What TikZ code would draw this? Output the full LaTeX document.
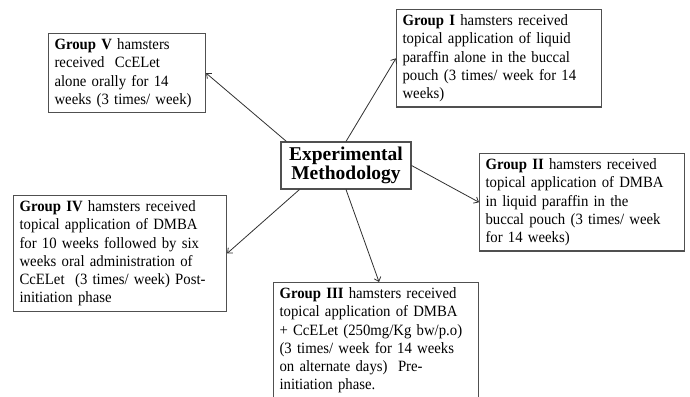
\documentclass[tikz,border=0pt]{standalone}
\usepackage{fontspec}
\setmainfont{Liberation Serif}
\newfontfamily\grpfont[FakeStretch=0.94]{Liberation Serif}
\usetikzlibrary{arrows.meta,positioning}
\definecolor{boxgray}{HTML}{505050}
\definecolor{linegray}{HTML}{303030}

\begin{document}
\begin{tikzpicture}[x=1pt,y=-1pt, every node/.style={font=\grpfont\fontsize{15.7}{18.3}\selectfont,align=left},
  grp/.style={draw=boxgray,line width=1.1pt,anchor=north west,inner xsep=6pt,inner ysep=5pt}]
\clip (0,0) rectangle (690,396);
\node[draw=boxgray,line width=1.1pt,align=center,minimum width=130pt,minimum height=47pt,inner sep=0pt,font=\fontsize{19.5}{19}\selectfont\bfseries] (ctr) at (346,165.5) {Experimental\\Methodology};
\node[grp,text width=145pt] (grpV) at (48,33) {\textbf{Group V} hamsters\\received~ CcELet\\alone orally for 14\\weeks (3 times/ week)};
\node[grp,text width=193pt] (grpI) at (396,9) {\textbf{Group I} hamsters received\\topical application of liquid\\paraffin alone in the buccal\\pouch (3 times/ week for 14\\weeks)};
\node[grp,text width=193pt] (grpII) at (479,153) {\textbf{Group II} hamsters received\\topical application of DMBA\\in liquid paraffin in the\\buccal pouch (3 times/ week\\for 14 weeks)};
\node[grp,text width=193pt] (grpIII) at (273,282) {\textbf{Group III} hamsters received\\topical application of DMBA\\+ CcELet (250mg/Kg bw/p.o)\\(3 times/ week for 14 weeks\\on alternate days)~ Pre-\\initiation phase.};
\node[grp,text width=201pt] (grpIV) at (13,195) {\textbf{Group IV} hamsters received\\topical application of DMBA\\for 10 weeks followed by six\\weeks oral administration of\\CcELet~ (3 times/ week) Post-\\initiation phase};
% arrow ends
\coordinate (oV) at ([xshift=6pt]ctr.north west);
\coordinate (oIV) at ([xshift=19pt]ctr.south west);
\coordinate (iIII) at ([xshift=3pt]grpIII.north);
\foreach \s/\t in {oV/grpV.east,ctr.north/grpI.west,ctr.east/grpII.west,ctr.south/iIII,oIV/grpIV.east}{\draw[-{Straight Barb[length=4pt,width=7pt]},line width=0.8pt,linegray] (\s)--(\t);}
\end{tikzpicture}
\end{document}
